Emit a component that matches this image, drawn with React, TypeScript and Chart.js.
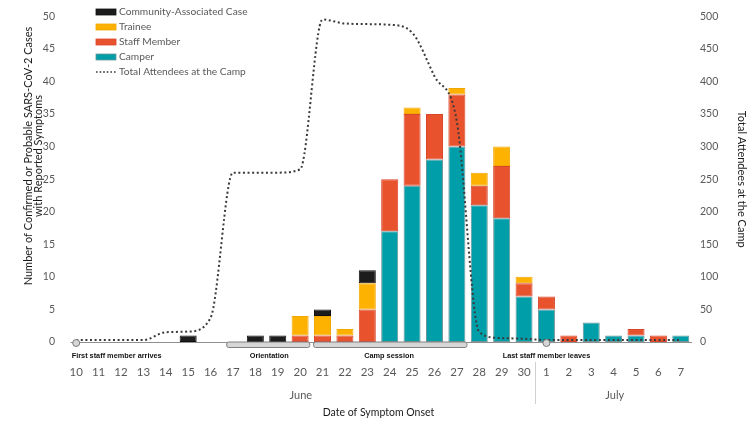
import React, { useEffect, useRef } from "react";
import { Chart, registerables } from "chart.js";

Chart.register(...registerables);

// ---- data ----
const dayLabels = [
  "10", "11", "12", "13", "14", "15", "16", "17", "18", "19", "20", "21", "22", "23",
  "24", "25", "26", "27", "28", "29", "30", "1", "2", "3", "4", "5", "6", "7",
];
const camperCases = [0, 0, 0, 0, 0, 0, 0, 0, 0, 0, 0, 0, 0, 0, 17, 24, 28, 30, 21, 19, 7, 5, 0, 3, 1, 1, 0, 1];
const staffCases = [0, 0, 0, 0, 0, 0, 0, 0, 0, 0, 1, 1, 1, 5, 8, 11, 7, 8, 3, 8, 2, 2, 1, 0, 0, 1, 1, 0];
const traineeCases = [0, 0, 0, 0, 0, 0, 0, 0, 0, 0, 3, 3, 1, 4, 0, 1, 0, 1, 2, 3, 1, 0, 0, 0, 0, 0, 0, 0];
const communityCases = [0, 0, 0, 0, 0, 1, 0, 0, 1, 1, 0, 1, 0, 2, 0, 0, 0, 0, 0, 0, 0, 0, 0, 0, 0, 0, 0, 0];
const totalAttendees = [3, 3, 3, 3, 15, 16, 37, 260, 260, 260, 265, 495, 489, 488, 487, 475, 408, 338, 15, 6, 5, 3, 3, 3, 3, 3, 3, 3];

const leftTicks = { min: 0, max: 50, step: 5 };
const rightTicks = { min: 0, max: 500, step: 50 };

const leftTitleLines = ["Number of Confirmed or Probable SARS-CoV-2 Cases", "with Reported Symptoms"];

const monthNames = ["June", "July"];
const monthCenters = [10.03, 24.05]; // in category units
const monthDivider = 20.5;

const periodNames = ["Orientation", "Camp session"];
const periodStarts = [6.72, 10.6];
const periodEnds = [10.43, 17.45];
const periodLabelCenters = [8.62, 13.97];

const milestoneNames = ["First staff member arrives", "Last staff member leaves"];
const milestoneAt = [0, 21];

const COLORS = {
  camper: "#009ea9",
  staff: "#e8532e",
  trainee: "#fdb100",
  community: "#1c1c1c",
  line: "#3a3a3a",
};

const FONT = "Lato";
const TICK_COLOR = "#595959";

const nz = (arr: number[]) => arr.map((v) => (v === 0 ? null : v));

const annotationPlugin = {
  id: "annotations",
  afterDraw(chart: any) {
    const { ctx, chartArea, scales } = chart;
    const xs = scales.x;
    const p0 = xs.getPixelForValue(0);
    const step = xs.getPixelForValue(1) - p0;
    const px = (i: number) => p0 + i * step;
    const base = chartArea.bottom;
    ctx.save();

    // axis line
    ctx.strokeStyle = "#8f8f8f";
    ctx.lineWidth = 1;
    ctx.beginPath();
    ctx.moveTo(px(-0.25), base + 0.5);
    ctx.lineTo(chartArea.right, base + 0.5);
    ctx.stroke();

    // periods
    for (let k = 0; k < periodNames.length; k++) {
      const x1 = px(periodStarts[k]);
      const x2 = px(periodEnds[k]);
      ctx.beginPath();
      ctx.roundRect(x1, base, x2 - x1, 5.5, 2);
      ctx.fillStyle = "#d6d6d6";
      ctx.fill();
      ctx.strokeStyle = "#808080";
      ctx.stroke();
    }
    // milestones
    for (let k = 0; k < milestoneAt.length; k++) {
      ctx.beginPath();
      ctx.arc(px(milestoneAt[k]), base + 1, 3.5, 0, Math.PI * 2);
      ctx.fillStyle = "#d6d6d6";
      ctx.fill();
      ctx.strokeStyle = "#7a7a7a";
      ctx.stroke();
    }

    // bold labels (condensed horizontally)
    ctx.fillStyle = "#111";
    ctx.font = `bold 8px "Liberation Sans"`;
    ctx.textBaseline = "middle";
    const sx = 90 / ctx.measureText(milestoneNames[0]).width;
    const drawCond = (text: string, x: number, align: "left" | "center") => {
      ctx.save();
      ctx.translate(x, base + 14);
      ctx.scale(sx, 1);
      ctx.textAlign = align;
      ctx.fillText(text, 0, 0);
      ctx.restore();
    };
    drawCond(milestoneNames[0], px(milestoneAt[0]) - 4.5, "left");
    drawCond(milestoneNames[1], px(milestoneAt[1]), "center");
    for (let k = 0; k < periodNames.length; k++) {
      drawCond(periodNames[k], px(periodLabelCenters[k]), "center");
    }

    // months
    ctx.font = `11px ${FONT}`;
    ctx.fillStyle = TICK_COLOR;
    ctx.textAlign = "center";
    for (let k = 0; k < monthNames.length; k++) {
      ctx.fillText(monthNames[k], px(monthCenters[k]), base + 53);
    }
    ctx.strokeStyle = "#d0d0d0";
    ctx.beginPath();
    ctx.moveTo(Math.round(px(monthDivider)) + 0.5, base + 20);
    ctx.lineTo(Math.round(px(monthDivider)) + 0.5, base + 62);
    ctx.stroke();

    // left axis title
    ctx.save();
    ctx.translate(28, 156);
    ctx.rotate(-Math.PI / 2);
    ctx.font = `11px ${FONT}`;
    ctx.fillStyle = "#1a1a1a";
    ctx.textAlign = "center";
    ctx.fillText(leftTitleLines[0], 0, 0);
    ctx.fillText(leftTitleLines[1], 0, 10.5);
    ctx.restore();

    // legend
    const ds = chart.data.datasets;
    const legendItems = [ds[3], ds[2], ds[1], ds[0], ds[4]];
    const lx = 96;
    let ly = 12;
    ctx.textAlign = "left";
    ctx.font = `10.2px ${FONT}`;
    for (const item of legendItems) {
      if (item.type === "line") {
        ctx.strokeStyle = item.borderColor;
        ctx.lineWidth = 1.6;
        ctx.setLineDash([1.6, 2]);
        ctx.beginPath();
        ctx.moveTo(lx, ly);
        ctx.lineTo(lx + 20, ly);
        ctx.stroke();
        ctx.setLineDash([]);
      } else {
        ctx.fillStyle = item.backgroundColor;
        ctx.fillRect(lx, ly - 3, 20, 6);
        ctx.strokeStyle = item.borderColor;
        ctx.lineWidth = 0.8;
        ctx.strokeRect(lx, ly - 3, 20, 6);
      }
      ctx.fillStyle = TICK_COLOR;
      ctx.fillText(item.label, lx + 23, ly);
      ly += 15;
    }
    ctx.restore();
  },
};

export default function App() {
  const ref = useRef<HTMLCanvasElement | null>(null);

  useEffect(() => {
    document.body.style.margin = "0";
    if (!ref.current) return;
    const barCommon = {
      type: "bar" as const,
      yAxisID: "y",
      stack: "cases",
      borderWidth: 1,
      borderSkipped: false,
      categoryPercentage: 1,
      barPercentage: 0.76,
      order: 2,
    };
    const chart = new Chart(ref.current, {
      type: "bar",
      data: {
        labels: dayLabels,
        datasets: [
          { ...barCommon, label: "Camper", data: nz(camperCases), backgroundColor: COLORS.camper, borderColor: "#6f9597" },
          { ...barCommon, label: "Staff Member", data: nz(staffCases), backgroundColor: COLORS.staff, borderColor: "#d9452a" },
          { ...barCommon, label: "Trainee", data: nz(traineeCases), backgroundColor: COLORS.trainee, borderColor: "#f0a800" },
          { ...barCommon, label: "Community-Associated Case", data: nz(communityCases), backgroundColor: COLORS.community, borderColor: "#111" },
          {
            type: "line" as const,
            label: "Total Attendees at the Camp",
            data: totalAttendees,
            yAxisID: "y1",
            borderColor: COLORS.line,
            borderWidth: 2,
            borderDash: [2, 2.6],
            pointRadius: 0,
            cubicInterpolationMode: "monotone",
            fill: false,
            order: 0,
          },
        ] as any,
      },
      options: {
        animation: false,
        responsive: true,
        maintainAspectRatio: false,
        layout: { padding: 0 },
        plugins: {
          legend: { display: false },
          tooltip: { enabled: false },
        },
        scales: {
          x: {
            type: "category",
            stacked: true,
            offset: true,
            grid: { display: false, drawTicks: false },
            border: { display: false },
            ticks: { color: TICK_COLOR, font: { family: FONT, size: 11.5 }, padding: 23, maxRotation: 0, autoSkip: false },
            title: { display: true, text: "Date of Symptom Onset", color: "#1a1a1a", font: { family: FONT, size: 10.5 }, padding: { top: 0, bottom: 6 } },
            afterFit: (s: any) => { s.height = 83; },
          },
          y: {
            position: "left",
            stacked: true,
            min: leftTicks.min,
            max: leftTicks.max,
            grid: { display: false, drawTicks: false },
            border: { display: false },
            ticks: { stepSize: leftTicks.step, color: TICK_COLOR, font: { family: FONT, size: 10.5 }, padding: 10 },
            title: { display: false },
            afterFit: (s: any) => { s.width = 65; },
          },
          y1: {
            position: "right",
            min: rightTicks.min,
            max: rightTicks.max,
            grid: { display: false, drawTicks: false },
            border: { display: false },
            ticks: { stepSize: rightTicks.step, color: TICK_COLOR, font: { family: FONT, size: 10.5 }, padding: 8 },
            title: {
              display: true,
              text: "Total Attendees at the Camp",
              color: "#1a1a1a",
              font: { family: FONT, size: 11 },
              padding: { top: 1.5, bottom: 0 },
            },
            afterFit: (s: any) => { s.width = 58; },
          },
        },
      } as any,
      plugins: [annotationPlugin],
    });
    return () => chart.destroy();
  }, []);

  return (
    <div style={{ position: "relative", width: 750, height: 425 }}>
      <canvas ref={ref} />
    </div>
  );
}
